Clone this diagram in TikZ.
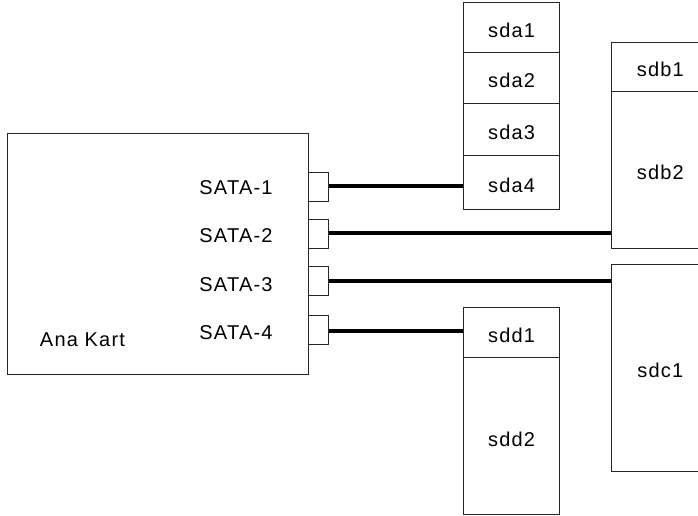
\documentclass[tikz,border=0pt]{standalone}
\usepackage{fontspec}
\setmainfont{Liberation Sans}[LetterSpace=6]
\begin{document}
\begin{tikzpicture}[x=1pt,y=-1pt,
  box/.style={draw=black!85,line width=1.1pt,anchor=north west,inner sep=0pt,
    font=\fontsize{20}{24}\selectfont,text height=19.3pt,text depth=0pt},
  port/.style={draw=black!85,line width=1.1pt,anchor=north west,inner sep=0pt,
    minimum width=20pt,minimum height=28.5pt},
  lbl/.style={font=\fontsize{20}{24}\selectfont,inner sep=0pt,
    text height=14.3pt,text depth=0pt},
  cable/.style={line width=4pt,black}]
\useasboundingbox (0,0) rectangle (698,516);
\clip (0,0) rectangle (698,516);

% main board
\node[box,minimum width=300.7pt,minimum height=241pt] (board) at (7.3,132.7) {};
\node[lbl] (kart) at (82.5,339) {Ana Kart};

% SATA ports
\node[port] (p1) at (308,172) {};
\node[port] (p2) at (308,219) {};
\node[port] (p3) at (308,266) {};
\node[port] (p4) at (308,315) {};
\node[lbl] (s1) at (236,187) {SATA-1};
\node[lbl] (s2) at (236,235.5) {SATA-2};
\node[lbl] (s3) at (236,284) {SATA-3};
\node[lbl] (s4) at (236,332) {SATA-4};

% disk sda
\node[box,minimum width=96.6pt,minimum height=50.3pt] (sda1) at (462.7,2) {sda1};
\node[box,minimum width=96.6pt,minimum height=50.7pt] (sda2) at (462.7,52.3) {sda2};
\node[box,minimum width=96.6pt,minimum height=52.3pt] (sda3) at (462.7,103) {sda3};
\node[box,minimum width=96.6pt,minimum height=54pt] (sda4) at (462.7,155.3) {sda4};

% disk sdb
\node[box,minimum width=97pt,minimum height=49.3pt] (sdb1) at (611.3,41.7) {sdb1};
\node[box,minimum width=97pt,minimum height=157.3pt] (sdb2) at (611.3,91) {sdb2};

% disk sdc
\node[box,minimum width=97pt,minimum height=206.7pt] (sdc1) at (611.3,264) {sdc1};

% disk sdd
\node[box,minimum width=96.6pt,minimum height=50pt] (sdd1) at (462.7,307.3) {sdd1};
\node[box,minimum width=96.6pt,minimum height=157pt] (sdd2) at (462.7,357.3) {sdd2};

% cables
\draw[cable] ([yshift=0.9pt]p1.east) -- ([yshift=0.9pt]p1.east -| sda4.west);
\draw[cable] ([yshift=0.6pt]p2.east) -- ([yshift=0.6pt]p2.east -| sdb2.west);
\draw[cable] ([yshift=-0.5pt]p3.east) -- ([yshift=-0.5pt]p3.east -| sdc1.west);
\draw[cable] ([yshift=-1.2pt]p4.east) -- ([yshift=-1.2pt]p4.east -| sdd1.west);
\end{tikzpicture}
\end{document}
